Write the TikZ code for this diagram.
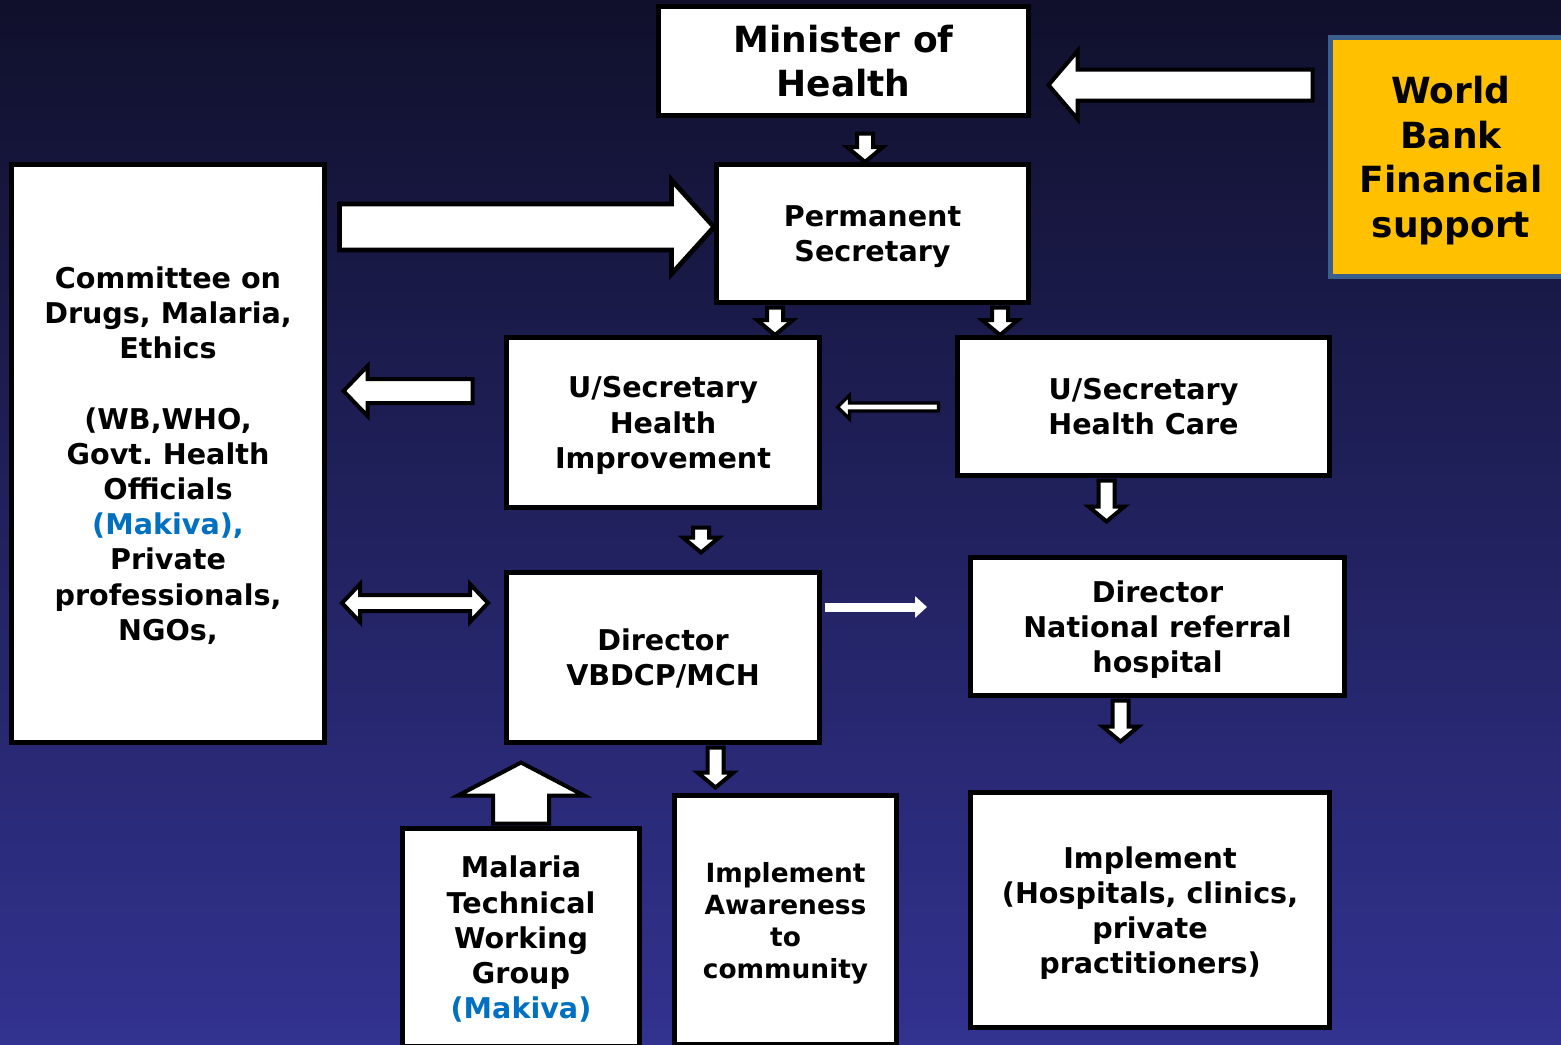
\documentclass[tikz,border=0pt]{standalone}
\usepackage{fontspec}
\setmainfont{DejaVu Sans}
\usetikzlibrary{calc, arrows.meta}
\definecolor{bgtop}{RGB}{16,16,44}
\definecolor{bgbottom}{RGB}{50,50,144}
\definecolor{wbfill}{RGB}{255,192,0}
\definecolor{wbline}{RGB}{58,95,140}
\definecolor{makiva}{RGB}{0,112,192}

\begin{document}
\begin{tikzpicture}
    [
        x=0.5pt, y=-0.5pt,
        box/.style={draw, fill=white, line width=2.5pt, align=center, inner sep=0pt, text depth=0pt,
            font=\bfseries\fontsize{14.3}{17.6}\selectfont},
        bigbox/.style={box, font=\bfseries\fontsize{18}{22.3}\selectfont},
        smallbox/.style={box, font=\bfseries\fontsize{13.2}{16}\selectfont},
        barrow/.style n args={3}{draw, fill=white, line width=2pt, line join=miter,
            to path={let \p1=(\tikztostart), \p2=(\tikztotarget),
                \n1={atan2((\y2)-(\y1),(\x2)-(\x1))}, \p3=($(\p2)!#3!(\p1)$) in
                ($(\p1)+({\n1+90}:#1)$) -- ($(\p3)+({\n1+90}:#1)$)
                -- ($(\p3)+({\n1+90}:#2)$) -- (\p2)
                -- ($(\p3)+({\n1-90}:#2)$) -- ($(\p3)+({\n1-90}:#1)$)
                -- ($(\p1)+({\n1-90}:#1)$) -- cycle}},
        dbarrow/.style n args={3}{draw, fill=white, line width=2pt, line join=miter,
            to path={let \p1=(\tikztostart), \p2=(\tikztotarget),
                \n1={atan2((\y2)-(\y1),(\x2)-(\x1))},
                \p3=($(\p1)!#3!(\p2)$), \p4=($(\p2)!#3!(\p1)$) in
                (\p1) -- ($(\p3)+({\n1+90}:#2)$) -- ($(\p3)+({\n1+90}:#1)$)
                -- ($(\p4)+({\n1+90}:#1)$) -- ($(\p4)+({\n1+90}:#2)$) -- (\p2)
                -- ($(\p4)+({\n1-90}:#2)$) -- ($(\p4)+({\n1-90}:#1)$)
                -- ($(\p3)+({\n1-90}:#1)$) -- ($(\p3)+({\n1-90}:#2)$) -- cycle}}
    ]
    \tikzstyle{sarrow} = [barrow={4pt}{9pt}{7.5pt}]
    \tikzstyle{wline} = [draw=white, line width=4.5pt, -{Triangle[length=6pt,width=10.5pt]}]

    % Background
    \useasboundingbox (0,0) rectangle (1561,1044);
    \shade[top color=bgtop, bottom color=bgbottom] (0,0) rectangle (1561,1044);

    % Ministry
    \node[bigbox, minimum width=185pt, minimum height=54.5pt] (minister) at (843.5,61) {Minister of\\Health};
    \node[bigbox, fill=wbfill, draw=wbline, minimum width=120.5pt, minimum height=119.5pt] (world_bank) at (1451,157) {World\\Bank\\Financial\\support};
    \node[box, minimum width=156pt, minimum height=69pt] (perm_sec) at (872.5,233.5) {Permanent\\Secretary};
    \node[box, minimum width=156.5pt, minimum height=289pt] (committee) at (168,453.5)
        {Committee on\\Drugs, Malaria,\\Ethics\\[17.6pt](WB,WHO,\\Govt.\ Health\\Officials\\\textcolor{makiva}{(Makiva),}\\Private\\professionals,\\NGOs,};

    % Under secretaries and directors
    \node[box, minimum width=156.5pt, minimum height=85pt] (usec_hi) at (663,422.5) {U/Secretary\\Health\\Improvement};
    \node[box, minimum width=186pt, minimum height=69pt] (usec_hc) at (1143.5,406.5) {U/Secretary\\Health Care};
    \node[box, below of=usec_hi, node distance=117.5pt, minimum width=156.5pt, minimum height=85pt] (dir_vbdcp) {Director\\VBDCP/MCH};
    \node[box, minimum width=187pt, minimum height=69pt] (dir_nrh) at (1157.5,626.5) {Director\\National referral\\hospital};

    % Implementation
    \node[box, minimum width=118.5pt, minimum height=109pt] (mtwg) at (521,937.5) {Malaria\\Technical\\Working\\Group\\\textcolor{makiva}{(Makiva)}};
    \node[smallbox, minimum width=111pt, minimum height=124.5pt] (impl_aware) at (785.5,920) {Implement\\Awareness\\to\\community};
    \node[box, minimum width=179.5pt, minimum height=117.5pt] (impl_hosp) at (1150,910) {Implement\\(Hospitals, clinics,\\private\\practitioners)};

    % Arrows
    \draw[barrow={7.75pt}{17pt}{14.5pt}] ([xshift=-7.75pt]world_bank.west |- 0,85) to ([xshift=8.75pt]minister.east |- 0,85);
    \draw[sarrow] ([yshift=-7.75pt]minister.south -| 865,0) to (perm_sec.north -| 865,0);
    \draw[barrow={11.5pt}{23.5pt}{21.25pt}, line width=2.4pt] ([xshift=6.25pt]committee.east |- 0,227) to (perm_sec.west |- 0,227);
    \draw[sarrow] ([yshift=-1.25pt]perm_sec.south -| 775,0) to (usec_hi.north -| 775,0);
    \draw[sarrow] ([yshift=-1.25pt]perm_sec.south -| 1000,0) to (usec_hc.north -| 1000,0);
    \draw[barrow={6pt}{12.5pt}{12pt}] ([xshift=-15.75pt]usec_hi.west |- 0,391) to ([xshift=8.25pt]committee.east |- 0,391);
    \draw[barrow={2pt}{6pt}{6pt}, line width=1.6pt] ([xshift=-8.25pt]usec_hc.west |- 0,407) to ([xshift=7.75pt]usec_hi.east |- 0,407);
    \draw[sarrow] ([yshift=-1.25pt]usec_hc.south -| 1106.5,0) to ([yshift=16.75pt]dir_nrh.north -| 1106.5,0);
    \draw[sarrow] ([yshift=-8.75pt]usec_hi.south -| 701,0) to ([yshift=8.75pt]dir_vbdcp.north -| 701,0);
    \draw[dbarrow={4pt}{9.5pt}{9pt}] ([xshift=7.5pt]committee.east |- 0,603) to ([xshift=-8pt]dir_vbdcp.west |- 0,603);
    \draw[wline, shorten >=20.5pt] ([xshift=1.25pt]dir_vbdcp.east |- 0,607) -- (dir_nrh.west |- 0,607);
    \draw[sarrow] ([yshift=-1.25pt]dir_vbdcp.south -| 715.5,0) to ([yshift=2.75pt]impl_aware.north -| 715.5,0);
    \draw[sarrow] ([yshift=-1.25pt]dir_nrh.south -| 1120.5,0) to ([yshift=24.25pt]impl_hosp.north -| 1120.5,0);
    \draw[barrow={14pt}{31.5pt}{16.5pt}] ([yshift=1.25pt]mtwg.north) to ([yshift=-8.75pt]dir_vbdcp.south -| mtwg.north);

\end{tikzpicture}
\end{document}
